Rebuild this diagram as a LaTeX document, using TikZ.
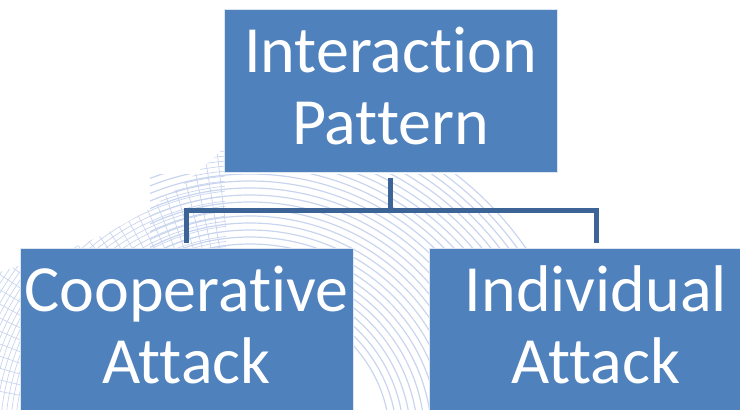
\documentclass[tikz,border=0pt]{standalone}
\usepackage{fontspec}
\setmainfont{Carlito}[Ligatures={NoCommon,NoContextual,NoRare}]
\definecolor{boxblue}{HTML}{4F81BD}
\definecolor{linkblue}{HTML}{3C6497}
\definecolor{wave}{HTML}{C9D5EE}

\begin{document}
\begin{tikzpicture}[x=1pt,y=-1pt,
  box/.style={draw=white!80!boxblue, line width=1pt, fill=boxblue,
    minimum width=333pt, minimum height=163pt, inner sep=0pt},
  boxtext/.style={inner sep=0pt, text=white, align=center,
    font=\fontsize{66}{72}\selectfont},
  link/.style={draw=linkblue, line width=5pt},
  waveline/.style={draw=wave, line width=1.2pt},
  meshline/.style={draw=wave, line width=0.7pt}]
\useasboundingbox (0,0) rectangle (740,410);
\clip (0,0) rectangle (740,410);

% faint concentric arcs behind the chart
\begin{scope}
  \clip (150,174) -- (505,174) -- (548,250) -- (548,410) -- (150,410) -- cycle;
  \foreach \r in {140,147,...,340}
    \draw[waveline] (250,440) circle[radius=\r];
\end{scope}

% faint curved mesh sheet on the left
\begin{scope}
  \clip (224,148) .. controls (170,200) and (120,232) .. (60,252)
        .. controls (30,262) .. (0,272) -- (0,410) -- (20,410)
        -- (20,248) -- (226,248) -- cycle;
  \foreach \r in {150,155,...,360}
    \draw[meshline] (250,440) circle[radius=\r];
  \foreach \a in {-94,-96.5,...,-170}
    \draw[meshline] (250,440) -- ++(\a:420);
\end{scope}

% boxes
\node[box] (top)   at (390.5,90.5)  {};
\node[box] (coop)  at (186.5,329.5) {};
\node[box] (indiv) at (596,329.5)   {};

% box labels
\node[boxtext] (toplabel)   at ([yshift=4.5pt]top.center)   {Interaction\\Pattern};
\node[boxtext] (cooplabel)  at ([yshift=4.5pt]coop.center)  {Cooperative\\Attack};
\node[boxtext] (indivlabel) at ([yshift=4.5pt]indiv.center) {Individual\\Attack};

% connectors
\coordinate (bus) at (390.5,210.5);
\draw[link] ([yshift=-5pt]top.south) -- (bus);
\draw[link] ([yshift=5pt]coop.north) |- (bus) -| ([yshift=5pt]indiv.north);
\end{tikzpicture}
\end{document}
